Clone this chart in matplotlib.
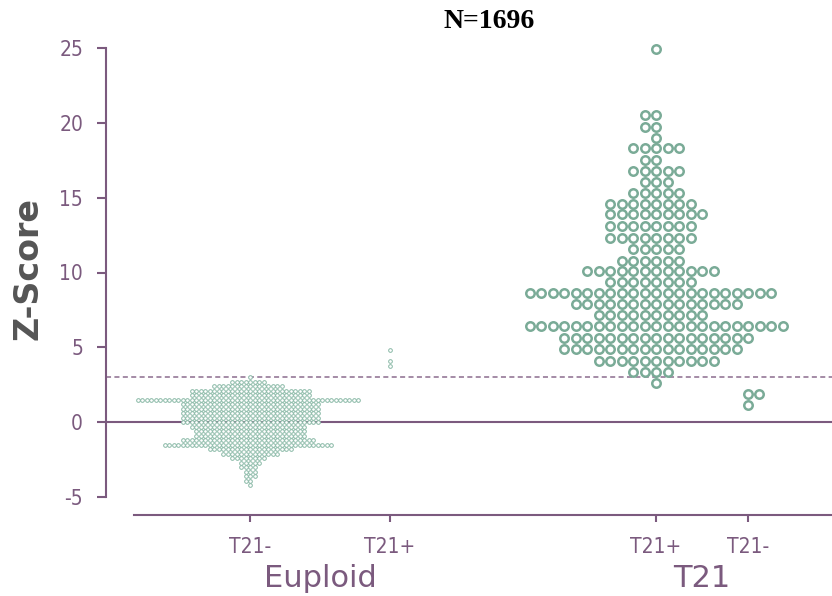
import matplotlib.pyplot as plt

# Euploid, T21- (binned z-scores: row centre and number of dots)
eup_neg_z = [3.0, 2.7, 2.4, 2.1, 1.8, 1.5, 1.2, 0.9, 0.6, 0.3, 0.0, -0.3, -0.6,
             -0.9, -1.2, -1.5, -1.8, -2.1, -2.4, -2.7, -3.0, -3.3, -3.6, -3.9, -4.2]
eup_neg_n = [1, 8, 16, 27, 27, 50, 31, 31, 31, 31, 31, 26, 25,
             25, 30, 38, 19, 13, 8, 5, 4, 3, 3, 2, 1]

# Euploid, T21+
eup_pos_z = [4.8, 4.1, 3.75]
eup_pos_n = [1, 1, 1]

# T21, T21+
t21_pos_z = [24.9, 20.5, 19.75, 19.0, 18.3, 17.5, 16.8, 16.05, 15.3, 14.6, 13.9, 13.1, 12.3,
             11.6, 10.8, 10.1, 9.35, 8.6, 7.87, 7.13, 6.4, 5.65, 4.87, 4.12, 3.38, 2.64]
t21_pos_n = [1, 2, 2, 1, 5, 2, 5, 3, 5, 8, 9, 8, 8,
             5, 6, 12, 8, 22, 15, 10, 23, 17, 16, 11, 4, 1]

# T21, T21-
t21_neg_z = [1.9, 1.15]
t21_neg_n = [2, 1]

tick_labels = ['T21-', 'T21+', 'T21+', 'T21-']
group_labels = ['Euploid', 'T21']
threshold = 3
total_n = 1696

PURPLE = '#7b5a7e'
GREEN = '#7aab97'


def swarm(center, rows, counts, step, bias='left'):
    xs, ys = [], []
    for z, n in zip(rows, counts):
        lo = -(n // 2) if bias == 'left' else -((n - 1) // 2)
        for k in range(n):
            xs.append(center + (lo + k) * step)
            ys.append(z)
    return xs, ys


fig = plt.figure(figsize=(8.32, 5.96), dpi=100)
ax = fig.add_axes([134 / 832, 81 / 596, 698 / 832, 485 / 596])

positions = [0, 1, 2.9, 3.555]
small = dict(s=7, facecolors='white', edgecolors='#88b8a5', linewidths=0.7, zorder=3)
big = dict(s=37, facecolors='white', edgecolors=GREEN, linewidths=1.8, zorder=3)

x, y = swarm(positions[0], eup_neg_z, eup_neg_n, 4.5 / 140)
ax.scatter(x, y, **small)
x, y = swarm(positions[1], eup_pos_z, eup_pos_n, 4.5 / 140)
ax.scatter(x, y, **small)
x, y = swarm(positions[2], t21_pos_z, t21_pos_n, 11.5 / 140)
ax.scatter(x, y, **big)
x, y = swarm(positions[3], t21_neg_z, t21_neg_n, 11.5 / 140, bias='right')
ax.scatter(x, y, **big)

off = -28 / 698
ax.axhline(0, xmin=off, xmax=1, color=PURPLE, lw=1.5, clip_on=False, zorder=1)
ax.axhline(threshold, xmin=off, xmax=1, color='#8c6c8e', lw=1.1,
           ls=(0, (3.3, 2.2)), clip_on=False, zorder=1)

ax.set_xlim(-116 / 140, 582 / 140)
ax.set_ylim(-6.2, 26.2)

for s in ['top', 'right']:
    ax.spines[s].set_visible(False)
ax.spines['left'].set_position(('axes', off))
ax.spines['left'].set_bounds(-5, 25)
for s in ['left', 'bottom']:
    ax.spines[s].set_color(PURPLE)
    ax.spines[s].set_linewidth(1.5)

ax.set_yticks(range(-5, 26, 5))
ax.set_yticklabels([str(v) for v in range(-5, 26, 5)], fontsize=15, fontstretch='condensed')
ax.tick_params(axis='y', colors=PURPLE, length=6.5, width=1.5, pad=10)
ax.set_xticks(positions)
ax.set_xticklabels(tick_labels, fontsize=15, fontstretch='condensed')
ax.tick_params(axis='x', colors=PURPLE, length=5, width=1.5, pad=11)

ax.text((positions[0] + positions[1]) / 2, -0.13, group_labels[0], transform=ax.get_xaxis_transform(),
        ha='center', va='center', fontsize=22, color=PURPLE)
ax.text((positions[2] + positions[3]) / 2, -0.13, group_labels[1], transform=ax.get_xaxis_transform(),
        ha='center', va='center', fontsize=22, color=PURPLE)

fig.text(28 / 832, 1 - 268 / 596, 'Z-Score', rotation=90, ha='center', va='center',
         fontsize=24, fontweight='bold', color='#555555')
fig.text(489 / 832, 1 - 21 / 596, 'N=%d' % total_n, ha='center', va='center',
         family='Liberation Serif', fontweight='bold', fontsize=20, color='black')

fig.savefig('out.png', dpi=100)
